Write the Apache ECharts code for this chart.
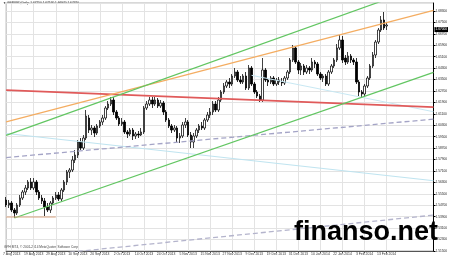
<!DOCTYPE html>
<html><head><meta charset="utf-8">
<script src="https://cdn.jsdelivr.net/npm/echarts@6/dist/echarts.min.js"></script>
<style>html,body{margin:0;padding:0;background:#fff}#c{width:450px;height:261px}</style>
</head><body><div id="c"></div><script>
const symbolName = 'GBPUSD', timeframe = 'Daily';
// [open, close, low, high]
const ohlc = [
[1.5507,1.5472,1.5458,1.5528],[1.5472,1.5486,1.5451,1.5507],[1.5486,1.5437,1.5423,1.5500],[1.5437,1.5416,1.5381,1.5451],
[1.5416,1.5472,1.5402,1.5486],[1.5472,1.5521,1.5458,1.5542],[1.5521,1.5563,1.5507,1.5577],[1.5563,1.5591,1.5542,1.5612],
[1.5591,1.5633,1.5577,1.5647],[1.5633,1.5591,1.5577,1.5661],[1.5591,1.5633,1.5577,1.5661],[1.5633,1.5563,1.5542,1.5647],
[1.5563,1.5521,1.5507,1.5577],[1.5521,1.5500,1.5479,1.5542],[1.5500,1.5458,1.5395,1.5521],[1.5458,1.5437,1.5423,1.5486],
[1.5437,1.5486,1.5416,1.5500],[1.5486,1.5521,1.5472,1.5535],[1.5521,1.5542,1.5507,1.5563],[1.5542,1.5514,1.5500,1.5563],
[1.5514,1.5577,1.5500,1.5591],[1.5577,1.5633,1.5563,1.5647],[1.5633,1.5703,1.5612,1.5717],[1.5703,1.5717,1.5661,1.5731],
[1.5717,1.5787,1.5703,1.5815],[1.5787,1.5822,1.5766,1.5857],[1.5822,1.5913,1.5801,1.5927],[1.5913,1.5871,1.5857,1.5941],
[1.5871,1.5941,1.5857,1.5962],[1.5941,1.6095,1.5927,1.6137],[1.6081,1.5997,1.5976,1.6102],[1.5997,1.6011,1.5962,1.6032],
[1.6011,1.5976,1.5948,1.6025],[1.5976,1.6025,1.5962,1.6039],[1.6025,1.6053,1.6011,1.6067],[1.6053,1.6081,1.6032,1.6102],
[1.6081,1.6151,1.6067,1.6165],[1.6151,1.6179,1.6137,1.6200],[1.6179,1.6207,1.6165,1.6228],[1.6207,1.6123,1.6102,1.6228],
[1.6123,1.6081,1.6067,1.6137],[1.6081,1.6039,1.6025,1.6095],[1.6039,1.6053,1.6025,1.6081],[1.6053,1.5983,1.5969,1.6067],
[1.5983,1.5969,1.5941,1.5997],[1.5969,1.5997,1.5955,1.6011],[1.5997,1.5955,1.5927,1.6011],[1.5955,1.5969,1.5934,1.5983],
[1.5969,1.5962,1.5941,1.5990],[1.5962,1.5983,1.5955,1.6011],[1.5983,1.6151,1.5969,1.6165],[1.6151,1.6179,1.6137,1.6200],
[1.6179,1.6207,1.6165,1.6228],[1.6207,1.6179,1.6151,1.6228],[1.6179,1.6207,1.6165,1.6228],[1.6207,1.6165,1.6151,1.6221],
[1.6165,1.6186,1.6151,1.6207],[1.6186,1.6123,1.6102,1.6200],[1.6123,1.6067,1.6053,1.6137],[1.6067,1.6025,1.6011,1.6081],
[1.6025,1.5997,1.5976,1.6039],[1.5997,1.6011,1.5983,1.6032],[1.6011,1.5941,1.5913,1.6025],[1.5941,1.5955,1.5906,1.5976],
[1.5955,1.6032,1.5941,1.6053],[1.6032,1.6053,1.6011,1.6081],[1.6053,1.5962,1.5948,1.6067],[1.5962,1.5913,1.5871,1.5983],
[1.5913,1.5955,1.5871,1.5976],[1.5955,1.5997,1.5941,1.6011],[1.5997,1.6025,1.5976,1.6039],[1.6025,1.6011,1.5997,1.6053],
[1.6011,1.6067,1.5997,1.6081],[1.6067,1.6102,1.6053,1.6123],[1.6102,1.6123,1.6081,1.6151],[1.6123,1.6179,1.6102,1.6200],
[1.6179,1.6137,1.6123,1.6200],[1.6137,1.6207,1.6123,1.6228],[1.6207,1.6263,1.6193,1.6277],[1.6263,1.6305,1.6249,1.6326],
[1.6305,1.6333,1.6291,1.6347],[1.6333,1.6319,1.6291,1.6361],[1.6319,1.6375,1.6305,1.6389],[1.6375,1.6403,1.6361,1.6431],
[1.6403,1.6347,1.6333,1.6417],[1.6347,1.6333,1.6319,1.6375],[1.6333,1.6375,1.6319,1.6389],[1.6375,1.6291,1.6277,1.6403],
[1.6291,1.6431,1.6277,1.6452],[1.6431,1.6319,1.6305,1.6445],[1.6319,1.6263,1.6249,1.6333],[1.6263,1.6235,1.6221,1.6277],
[1.6235,1.6207,1.6193,1.6249],[1.6207,1.6417,1.6193,1.6501],[1.6417,1.6347,1.6333,1.6431],[1.6347,1.6333,1.6305,1.6361],
[1.6333,1.6361,1.6319,1.6375],[1.6361,1.6319,1.6305,1.6375],[1.6319,1.6347,1.6305,1.6361],[1.6347,1.6333,1.6312,1.6368],
[1.6333,1.6326,1.6305,1.6361],[1.6326,1.6361,1.6312,1.6375],[1.6361,1.6403,1.6347,1.6417],[1.6403,1.6487,1.6389,1.6501],
[1.6487,1.6571,1.6473,1.6592],[1.6571,1.6473,1.6459,1.6585],[1.6473,1.6417,1.6389,1.6487],[1.6417,1.6445,1.6382,1.6466],
[1.6445,1.6403,1.6382,1.6459],[1.6403,1.6431,1.6389,1.6452],[1.6431,1.6417,1.6389,1.6445],[1.6417,1.6473,1.6403,1.6501],
[1.6473,1.6459,1.6431,1.6487],[1.6459,1.6389,1.6375,1.6473],[1.6389,1.6361,1.6347,1.6403],[1.6361,1.6375,1.6333,1.6389],
[1.6375,1.6319,1.6305,1.6389],[1.6319,1.6403,1.6305,1.6417],[1.6403,1.6445,1.6389,1.6459],[1.6445,1.6487,1.6431,1.6501],
[1.6487,1.6571,1.6473,1.6599],[1.6571,1.6627,1.6557,1.6662],[1.6627,1.6487,1.6466,1.6655],[1.6501,1.6473,1.6452,1.6522],
[1.6473,1.6515,1.6459,1.6543],[1.6515,1.6487,1.6466,1.6529],[1.6487,1.6473,1.6452,1.6501],[1.6473,1.6333,1.6319,1.6501],
[1.6333,1.6263,1.6235,1.6347],[1.6263,1.6249,1.6221,1.6277],[1.6249,1.6305,1.6228,1.6319],[1.6305,1.6361,1.6291,1.6375],
[1.6361,1.6445,1.6347,1.6459],[1.6445,1.6522,1.6431,1.6543],[1.6522,1.6613,1.6501,1.6627],[1.6613,1.6697,1.6599,1.6711],
[1.6697,1.6767,1.6683,1.6795],[1.6767,1.6711,1.6697,1.6823],[1.6725,1.6732,1.6697,1.6753]
];
const tickLabels = ['7 Aug 2013','19 Aug 2013','29 Aug 2013','10 Sep 2013','20 Sep 2013','2 Oct 2013','14 Oct 2013','24 Oct 2013','5 Nov 2013','15 Nov 2013','27 Nov 2013','9 Dec 2013','19 Dec 2013','31 Dec 2013','10 Jan 2014','22 Jan 2014','3 Feb 2014','13 Feb 2014'];
const firstTickIndex = 2, barsPerTick = 8, futureSlots = 17;
const yMin = 1.5150, yMax = 1.6886, yStep = 0.0080;
// trend lines: [categoryIndex, price] end points
const redLine = [[0,1.6276],[155,1.6157]];
const orangeLine = [[0,1.6054],[155,1.6835]];
const greenUpper = [[0,1.5959],[155,1.7029]];
const greenLower = [[3,1.5381],[155,1.6400]];
const dashUpper = [[0,1.5804],[155,1.6073]];
const dashLower = [[0,1.5096],[155,1.5401]];
const cyanA = [[0,1.5973],[155,1.5642]];
const cyanB = [[89,1.6380],[155,1.6125]];
const supportLine = [[0,1.5388],[18,1.5388]];

const months=['Jan','Feb','Mar','Apr','May','Jun','Jul','Aug','Sep','Oct','Nov','Dec'];
const categories=[];
{ let d=new Date(Date.UTC(2013,7,5));
  while(categories.length<ohlc.length){const w=d.getUTCDay(); if(w>0&&w<6) categories.push(d.getUTCDate()+' '+months[d.getUTCMonth()]+' '+d.getUTCFullYear()); d.setUTCDate(d.getUTCDate()+1);}
  for(let k=0;k<futureSlots;k++) categories.push('');
}
const isTick = i => i>=firstTickIndex && (i-firstTickIndex)%barsPerTick===0 && (i-firstTickIndex)/barsPerTick < tickLabels.length;
const last = ohlc[ohlc.length-1];
const f5 = v => v.toFixed(5);

function lineSeries(data,color,width,type){
  return {type:'line',data:data,showSymbol:false,silent:true,clip:true,z:3,animation:false,
    lineStyle:{color:color,width:width,type:type||'solid'}};
}
const chart = echarts.init(document.getElementById('c'),null,{renderer:'canvas'});
chart.setOption({
  animation:false,
  backgroundColor:'#ffffff',
  grid:{left:3,right:15,top:3,bottom:10,show:true,borderColor:'#b0b0b0',borderWidth:1},
  xAxis:{type:'category',data:categories,boundaryGap:false,
    axisLine:{lineStyle:{color:'#555',width:1}},
    axisTick:{show:true,interval:(i)=>isTick(i),length:2,lineStyle:{color:'#555'}},
    axisLabel:{interval:(i)=>isTick(i),formatter:(v,i)=>isTick(i)?tickLabels[(i-firstTickIndex)/barsPerTick]:'',
      fontSize:3.4,color:'#333',margin:2,fontFamily:'Liberation Sans'},
    splitLine:{show:true,interval:(i)=>isTick(i),lineStyle:{color:'#e3e3e3',width:1}}},
  yAxis:{type:'value',position:'right',min:yMin,max:yMax,interval:yStep,scale:true,
    axisLine:{show:true,lineStyle:{color:'#000',width:1}},
    axisTick:{show:true,length:2,lineStyle:{color:'#000'}},
    axisLabel:{showMaxLabel:false,formatter:v=>f5(v),fontSize:3.2,color:'#222',margin:2,fontFamily:'Liberation Sans'},
    splitLine:{show:true,lineStyle:{color:'#e3e3e3',width:1}}},
  series:[
    {type:'candlestick',data:ohlc,barWidth:2,z:2,
      itemStyle:{color:'#ffffff',color0:'#000000',borderColor:'#111',borderColor0:'#000',borderWidth:0.8},
      markLine:{symbol:['none','none'],silent:true,animation:false,
        lineStyle:{color:'rgba(0,0,0,0)',width:0},
        label:{position:'end',distance:1,formatter:p=>f5(p.value),backgroundColor:'#000',color:'#fff',
          fontSize:3.2,padding:[1,1,1,1],fontFamily:'Liberation Sans'},
        data:[{yAxis:last[1]}]}},
    lineSeries(cyanA,'#bfe4f0',1),
    lineSeries(cyanB,'#c8e8f3',1),
    lineSeries(dashUpper,'#a4a4c6',1.3,[5,3]),
    lineSeries(dashLower,'#b4b4cc',1.3,[5,3]),
    lineSeries(redLine,'#e05a5a',1.6),
    lineSeries(orangeLine,'#f4ad62',1.3),
    lineSeries(greenUpper,'#62c662',1.2),
    lineSeries(greenLower,'#62c662',1.2),
    lineSeries(supportLine,'#d8a27e',1)
  ],
  graphic:[
    {type:'text',left:3,top:2,silent:true,style:{text:'\u25BC '+symbolName+','+timeframe+'  '+f5(last[0])+' '+f5(last[3])+' '+f5(last[2])+' '+f5(last[1]),
      fontSize:3.2,fill:'#333',fontFamily:'Liberation Sans'}},
    {type:'text',left:4,top:246,silent:true,style:{text:'GPH MT4, \u00A9 2001-2014 MetaQuotes Software Corp.',
      fontSize:3.2,fill:'#444',fontFamily:'Liberation Sans'}},
    {type:'text',left:294,top:219,silent:true,z:10,style:{text:'finanso.net',fontSize:27,fontWeight:'bold',
      fill:'#000',fontFamily:'Liberation Sans'}}
  ]
});
</script></body></html>
